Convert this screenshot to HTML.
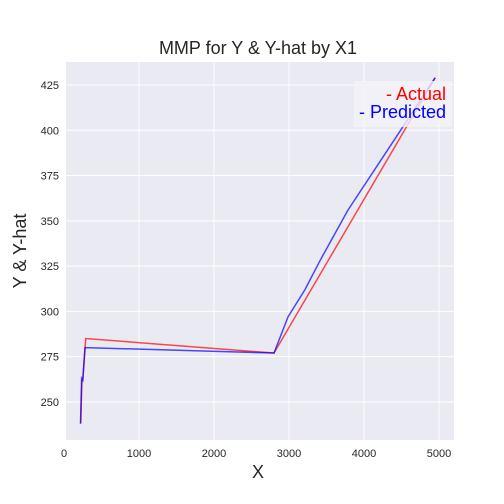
<!DOCTYPE html>
<html><head><meta charset="utf-8"><style>
body{margin:0;background:#fff;}
svg{display:block;font-family:"Liberation Sans",sans-serif;}
</style></head><body>
<svg id="c" width="504" height="504">
<rect x="66" y="62" width="388" height="378" fill="#EAEAF2"/>
<g id="grid"></g>
<g id="series"></g>
<g id="ticks"></g>
<text x="258" y="54" text-anchor="middle" font-size="18" fill="#262626">MMP for Y &amp; Y-hat by X1</text>
<text x="258" y="478" text-anchor="middle" font-size="18" fill="#262626">X</text>
<text transform="translate(26,251) rotate(-90)" text-anchor="middle" font-size="18" fill="#262626">Y &amp; Y-hat</text>
<g>
<rect x="354" y="81" width="98" height="46" fill="#F2F2F7" opacity="0.8" rx="2"/>
<text x="446" y="100" text-anchor="end" font-size="18" fill="#ff0000">- Actual</text>
<text x="446" y="118" text-anchor="end" font-size="18" fill="#0000ff">- Predicted</text>
</g>
</svg>
<script>
const xTicks=[0,1000,2000,3000,4000,5000];
const yTicks=[250,275,300,325,350,375,400,425];
const actualX=[223,240,250,290,2800,4950];
const actualY=[238,262,262,285,277,429];
const predX=[220,235,250,280,2800,2987,3213,3413,3787,4520,4947];
const predY=[238,263,262,280,277,297,312,328,356,402,429];
const NS="http://www.w3.org/2000/svg";
const sx=v=>64+v*0.075;
const sy=v=>85+(425-v)*1.811;
const grid=document.getElementById('grid'),ticks=document.getElementById('ticks'),series=document.getElementById('series');
function mk(t,a,p){const e=document.createElementNS(NS,t);for(const k in a)e.setAttribute(k,a[k]);p.appendChild(e);return e;}
xTicks.forEach(v=>{
 const l=mk('line',{x1:sx(v),x2:sx(v),y1:62,y2:440,stroke:'#fff','stroke-width':1},grid);
 
 
 const t=mk('text',{x:sx(v),y:457,'text-anchor':'middle','font-size':11,fill:'#262626'},ticks);
 t.textContent=v;
 
 
});
yTicks.forEach(v=>{
 const l=mk('line',{x1:66,x2:454,y1:sy(v),y2:sy(v),stroke:'#fff','stroke-width':1},grid);
 
 
 const t=mk('text',{x:59,y:sy(v)+4,'text-anchor':'end','font-size':11,fill:'#262626'},ticks);
 t.textContent=v;
 
 
});
function line(xs,ys,c){return mk('polyline',{points:xs.map((x,i)=>sx(x)+','+sy(ys[i])).join(' '),fill:'none',stroke:c,'stroke-width':1.5,opacity:0.7},series);}
const a=line(actualX,actualY,'#ff0000');


const p=line(predX,predY,'#0000ff');


</script>
</body></html>
